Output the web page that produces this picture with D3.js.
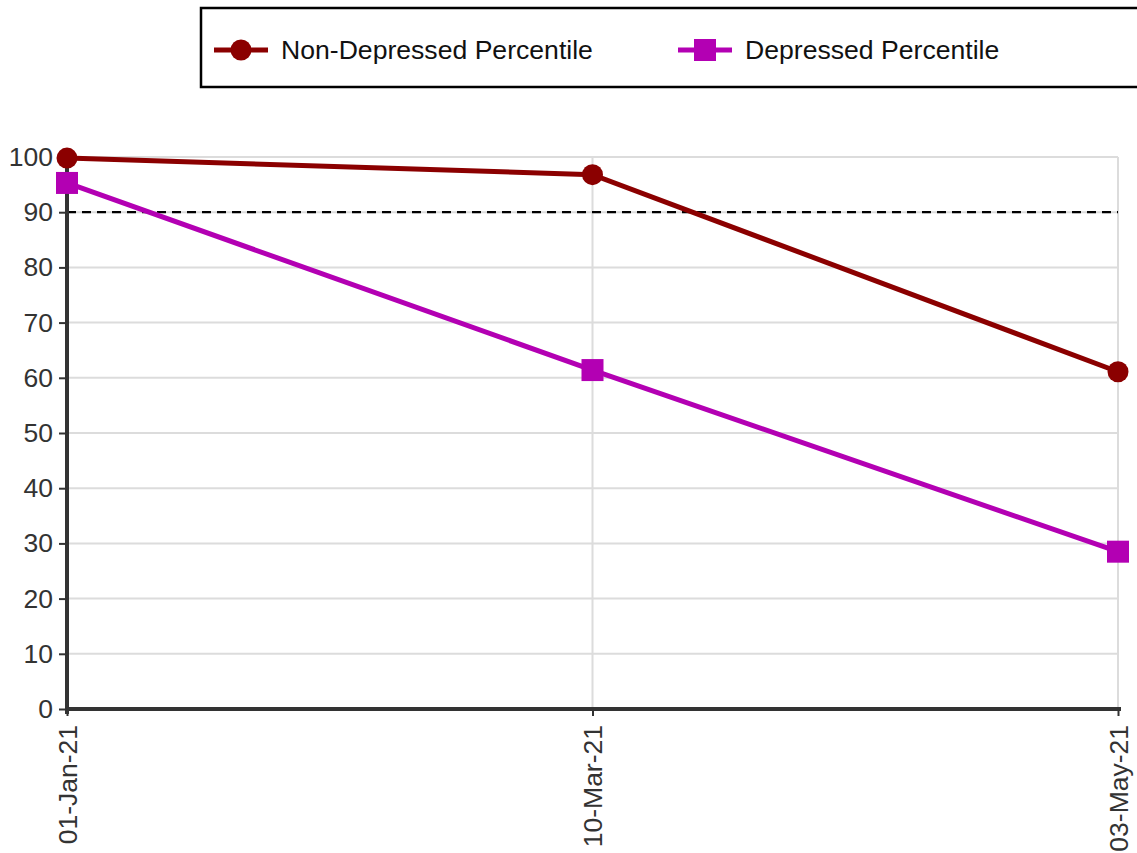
<!DOCTYPE html>
<html><head><meta charset="utf-8">
<script src="https://cdn.jsdelivr.net/npm/d3@7"></script>
<style>body{margin:0;background:#fff}svg{display:block;font-family:"Liberation Sans",Arial,sans-serif}</style>
</head><body><svg id="c" width="1137" height="853"></svg>
<script>
const dates = ["01-Jan-21", "10-Mar-21", "03-May-21"];
const nonDepressed = [99.8, 96.8, 61.1];
const depressed = [95.3, 61.4, 28.5];
const yTicks = [0,10,20,30,40,50,60,70,80,90,100];
const threshold = 90;
const seriesNames = ["Non-Depressed Percentile", "Depressed Percentile"];

const svg = d3.select("#c");
const L = 67, R = 1118, T = 157, B = 709;
const x = d3.scalePoint().domain(dates).range([L, R]);
const y = d3.scaleLinear().domain([0, 100]).range([B, T]);
const FONT = "Liberation Sans, Arial, sans-serif";

// grid
const g = svg.append("g");
g.selectAll(".hg").data(yTicks).join("line")
  .attr("x1", L).attr("x2", R).attr("y1", d => y(d)).attr("y2", d => y(d))
  .attr("stroke", "#dcdcdc").attr("stroke-width", 2);
g.selectAll(".vg").data(dates).join("line")
  .attr("x1", d => x(d)).attr("x2", d => x(d)).attr("y1", T).attr("y2", B)
  .attr("stroke", "#dcdcdc").attr("stroke-width", 2);

// threshold
svg.append("line").attr("x1", L).attr("x2", R).attr("y1", y(threshold)).attr("y2", y(threshold))
  .attr("stroke", "#000").attr("stroke-width", 2.2).attr("stroke-dasharray", "9,6");

// axes
const yAxis = svg.append("g").attr("transform", `translate(${L},0)`)
  .call(d3.axisLeft(y).tickValues(yTicks).tickSize(8).tickPadding(6));
yAxis.select(".domain").attr("stroke", "#333").attr("stroke-width", 4).attr("d", `M0,${T}V${B+5}`);
yAxis.selectAll(".tick line").attr("stroke", "#333").attr("stroke-width", 2);
yAxis.selectAll(".tick text").attr("font-size", 26.5).attr("fill", "#333").attr("font-family", FONT);

const xAxis = svg.append("g").attr("transform", `translate(0,${B})`)
  .call(d3.axisBottom(x).tickSize(7).tickPadding(0));
xAxis.select(".domain").attr("stroke", "#333").attr("stroke-width", 4).attr("d", `M${L},0H${R+3}`);
xAxis.selectAll(".tick line").attr("stroke", "#333").attr("stroke-width", 2);
xAxis.selectAll(".tick text").attr("font-size", 26.5).attr("fill", "#333")
  .attr("font-family", FONT)
  .attr("transform", "rotate(-90)").attr("text-anchor", "end")
  .attr("x", -16).attr("y", 0).attr("dy", "0.35em");

// series
const colors = ["#8b0000", "#b300b3"];
const data = [nonDepressed, depressed];
const line = d3.line().x((d, i) => x(dates[i])).y(d => y(d));
data.forEach((s, k) => {
  svg.append("path").datum(s).attr("d", line).attr("fill", "none")
    .attr("stroke", colors[k]).attr("stroke-width", 5);
});
svg.selectAll(".c1").data(nonDepressed).join("circle")
  .attr("cx", (d, i) => x(dates[i])).attr("cy", d => y(d)).attr("r", 10.5).attr("fill", colors[0]);
svg.selectAll(".s1").data(depressed).join("rect")
  .attr("x", (d, i) => x(dates[i]) - 11).attr("y", d => y(d) - 11)
  .attr("width", 22).attr("height", 22).attr("fill", colors[1]);

// legend
svg.append("rect").attr("x", 201).attr("y", 8).attr("width", 960).attr("height", 79)
  .attr("fill", "#fff").attr("stroke", "#000").attr("stroke-width", 2.5);
const lg = [{x: 214}, {x: 678}];
lg.forEach((p, k) => {
  const cy = 50;
  svg.append("line").attr("x1", p.x).attr("x2", p.x + 54).attr("y1", cy).attr("y2", cy)
    .attr("stroke", colors[k]).attr("stroke-width", 5);
  if (k === 0) svg.append("circle").attr("cx", p.x + 27).attr("cy", cy).attr("r", 10.5).attr("fill", colors[k]);
  else svg.append("rect").attr("x", p.x + 16).attr("y", cy - 11).attr("width", 22).attr("height", 22).attr("fill", colors[k]);
  svg.append("text").attr("x", p.x + 67).attr("y", cy).attr("dy", "0.35em")
    .attr("font-size", 26.6).attr("font-family", FONT).attr("fill", "#111").text(seriesNames[k]);
});
</script></body></html>
